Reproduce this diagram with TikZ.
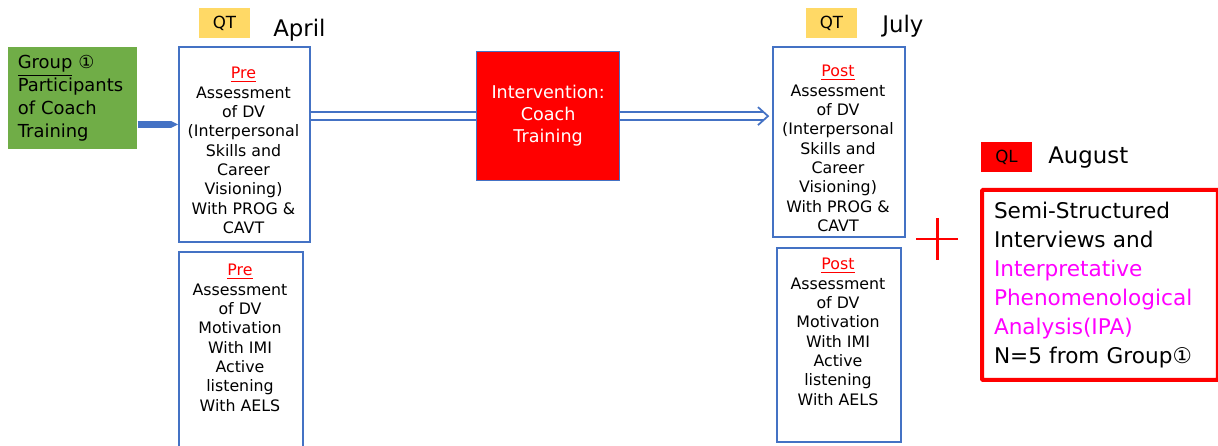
\documentclass[tikz,border=0pt]{standalone}
\usepackage{fontspec}
\setmainfont{DejaVu Sans}
\usetikzlibrary{arrows.meta}
\definecolor{boxblue}{HTML}{4472C4}
\definecolor{qtgold}{HTML}{FFD966}
\definecolor{groupgreen}{HTML}{70AD47}
\definecolor{qlred}{HTML}{FF0000}
\definecolor{ipapink}{HTML}{FF00FF}
\newcommand{\phasemark}[1]{{\color{qlred}\underline{#1}}}
\tikzset{
	assessbox/.style={draw=boxblue, line width=0.035cm, anchor=north west, inner sep=0pt},
	assesstext/.style={anchor=north, align=center, inner sep=0pt, font=\fontsize{9}{11}\selectfont},
	qtlabel/.style={fill=qtgold, minimum width=1.02cm, minimum height=0.6cm, inner sep=0pt, font=\fontsize{9.5}{11}\selectfont},
	monthlabel/.style={anchor=base west, inner sep=0pt, font=\fontsize{13}{15}\selectfont},
	flowarrow/.style={draw=boxblue, line width=0.035cm, double, double distance=0.12cm}
}
\begin{document}
\begin{tikzpicture}[x=0.02cm, y=-0.02cm]
		\clip (0,0) rectangle (1218,446);
		
		%group
		\node[fill=groupgreen, anchor=north west, text width=2.2cm, inner xsep=0.19cm, minimum height=2.04cm, align=left, font=\fontsize{10.2}{13}\selectfont] (group) at (8,47) {\underline{Group} ①\\Participants\\of Coach\\Training};
		
		%pre assessments, april
		\node[qtlabel] (qtapril) at (224.5,23){QT};
		\node[monthlabel] (april) at (273,37){April};
		\node[assessbox, minimum width=2.62cm, minimum height=3.9cm] (pre1) at (178,46){};
		\node[assesstext] (pre1text) at (243.5,67){\phasemark{Pre}\\Assessment\\of DV\\(Interpersonal\\Skills and\\Career\\Visioning)\\With PROG \&\\CAVT};
		\node[assessbox, minimum width=2.48cm, minimum height=4.4cm] (pre2) at (178,251){};
		\node[assesstext] (pre2text) at (240,264){\phasemark{Pre}\\Assessment\\of DV\\Motivation\\With IMI\\Active\\listening\\With AELS};
		
		%intervention
		\node[assessbox, fill=qlred, line width=0.025cm, minimum width=2.86cm, minimum height=2.58cm, text=white, align=center, font=\fontsize{10}{12.5}\selectfont] (interv) at (476,51){Intervention:\\Coach\\Training};
		
		%post assessments, july
		\node[qtlabel] (qtjuly) at (831.5,23){QT};
		\node[monthlabel] (july) at (882,33){July};
		\node[assessbox, minimum width=2.64cm, minimum height=3.8cm] (post1) at (772,46){};
		\node[assesstext] (post1text) at (838,65){\phasemark{Post}\\Assessment\\of DV\\(Interpersonal\\Skills and\\Career\\Visioning)\\With PROG \&\\CAVT};
		\node[assessbox, minimum width=2.48cm, minimum height=3.88cm] (post2) at (776,247){};
		\node[assesstext] (post2text) at (838,258){\phasemark{Post}\\Assessment\\of DV\\Motivation\\With IMI\\Active\\listening\\With AELS};
		
		%interviews, august
		\draw[qlred, line width=0.06cm] (916,239) -- (958,239) (937,218) -- (937,260);
		\node[qtlabel, fill=qlred] (qlaug) at (1006.5,157){QL};
		\node[monthlabel] (august) at (1048,164){August};
		\node[draw=qlred, line width=0.08cm, rounded corners=0.02cm, anchor=north west, minimum width=4.72cm, minimum height=3.8cm, text width=4.24cm, inner xsep=0.24cm, align=left, font=\fontsize{12.3}{16.6}\selectfont] (interview) at (980,188){Semi-Structured\\Interviews and\\\textcolor{ipapink}{Interpretative}\\\textcolor{ipapink}{Phenomenological}\\\textcolor{ipapink}{Analysis(IPA)}\\N=5 from Group①};
		
		%arrows
		\coordinate (feed) at (0,124.5);
		\draw[boxblue, line width=0.14cm, -{Triangle[length=0.14cm, width=0.14cm, line width=0pt]}] (group.east |- feed) -- (pre1.west |- feed);
		\draw[flowarrow] (pre1.east |- interv.west) -- (interv.west);
		\coordinate (tip) at ([xshift=-0.08cm]post1.west |- interv.east);
		\draw[flowarrow] (interv.east) -- ([xshift=-0.1cm]tip);
		\draw[boxblue, line width=0.035cm] ([xshift=-0.2cm, yshift=0.18cm]tip) -- (tip) -- ([xshift=-0.2cm, yshift=-0.18cm]tip);
\end{tikzpicture}
\end{document}
